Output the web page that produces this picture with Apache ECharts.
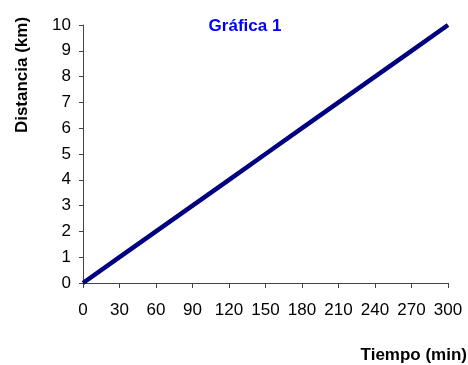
<!DOCTYPE html>
<html><head><meta charset="utf-8">
<script src="https://cdn.jsdelivr.net/npm/echarts@6/dist/echarts.min.js"></script>
<style>html,body{margin:0;padding:0;background:#fff}#c{width:468px;height:365px}</style>
</head><body><div id="c"></div>
<script>
const tiempo = [0, 30, 60, 90, 120, 150, 180, 210, 240, 270, 300];
const distancia = [0, 1, 2, 3, 4, 5, 6, 7, 8, 9, 10];
const titleText = 'Gráfica 1';
const xName = 'Tiempo (min)';
const yName = 'Distancia (km)';

const chart = echarts.init(document.getElementById('c'));
const font = 'Liberation Sans, Arial, sans-serif';
chart.setOption({
  animation: false,
  backgroundColor: '#fff',
  title: {text: titleText, left: 240, top: 13, textAlign: 'center',
    textStyle: {color: '#0000ff', fontWeight: 'bold', fontSize: 17, fontFamily: font}},
  grid: {left: 83, right: 20, top: 25, bottom: 82},
  xAxis: {type: 'value', min: 0, max: 300, interval: 30,
    axisLine: {lineStyle: {color: '#444', width: 1}},
    axisTick: {length: 5, lineStyle: {color: '#444'}},
    splitLine: {show: false},
    axisLabel: {color: '#000', fontSize: 17, fontFamily: font, margin: 19}},
  yAxis: {type: 'value', min: 0, max: 10, interval: 1,
    axisLine: {show: true, lineStyle: {color: '#444', width: 1}},
    axisTick: {show: true, length: 4, lineStyle: {color: '#444'}},
    splitLine: {show: false},
    axisLabel: {color: '#000', fontSize: 17, fontFamily: font, margin: 12}},
  graphic: [
    {type: 'text', x: 467, y: 355, style: {text: xName, fill: '#000', font: 'bold 17px ' + font, align: 'right', verticalAlign: 'middle'}},
    {type: 'text', x: 22, y: 75, rotation: Math.PI / 2, style: {text: yName, fill: '#000', font: 'bold 17px ' + font, align: 'center', verticalAlign: 'middle'}}
  ],
  series: [{type: 'line', data: tiempo.map((t, i) => [t, distancia[i]]),
    showSymbol: false, lineStyle: {color: '#000080', width: 4.5}, itemStyle: {color: '#000080'}}]
});
</script></body></html>
